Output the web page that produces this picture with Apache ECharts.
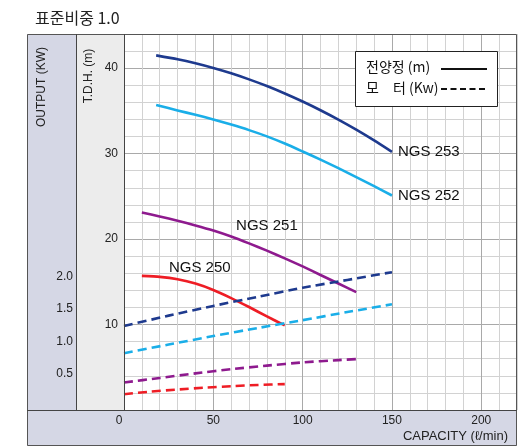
<!DOCTYPE html>
<html>
<head>
<meta charset="utf-8">
<script src="https://cdn.jsdelivr.net/npm/echarts@6/dist/echarts.min.js"></script>
<style>
html,body{margin:0;padding:0;background:#fff;}
#c{width:526px;height:446px;}
</style>
</head>
<body>
<div id="c"></div>
<script>
// ---------- data ----------
const titleText = '표준비중 1.0';
const xTicks = [0, 50, 100, 150, 200];
const headTicks = [10, 20, 30, 40];
const kwTicks = [0.5, 1.0, 1.5, 2.0];

// T.D.H. (m) curves
const cap253 = [18, 30, 40, 50, 60, 70, 80, 90, 100, 110, 120, 130, 140, 150];
const head253 = [41.5, 41.04, 40.57, 40.02, 39.4, 38.69, 37.91, 37.04, 36.1, 35.08, 33.98, 32.8, 31.54, 30.2];
const cap252 = [18, 30, 40, 50, 60, 70, 80, 90, 100, 110, 120, 130, 140, 150];
const head252 = [35.7, 35.05, 34.55, 34.0, 33.4, 32.75, 32.02, 31.18, 30.25, 29.3, 28.3, 27.25, 26.2, 25.1];
const cap251 = [10, 20, 30, 40, 50, 60, 70, 80, 90, 100, 110, 120, 130];
const head251 = [23.1, 22.65, 22.15, 21.6, 21.0, 20.3, 19.5, 18.65, 17.75, 16.8, 15.8, 14.8, 13.8];
const cap250 = [10, 20, 30, 40, 50, 60, 70, 80, 90];
const head250 = [15.7, 15.58, 15.3, 14.8, 14.05, 13.1, 12.05, 10.95, 9.9];

// Motor output (kW) curves
const mcap253 = [0, 25, 50, 75, 100, 125, 150];
const kw253 = [1.24, 1.40, 1.55, 1.69, 1.83, 1.95, 2.07];
const mcap252 = [0, 25, 50, 75, 100, 125, 150];
const kw252 = [0.82, 0.955, 1.085, 1.21, 1.33, 1.455, 1.575];
const mcap251 = [0, 20, 40, 60, 80, 100, 120, 130];
const kw251 = [0.37, 0.44, 0.51, 0.575, 0.63, 0.68, 0.715, 0.73];
const mcap250 = [0, 15, 30, 45, 60, 75, 90];
const kw250 = [0.19, 0.23, 0.262, 0.29, 0.313, 0.332, 0.345];

const names = ['NGS 253', 'NGS 252', 'NGS 251', 'NGS 250'];
const labelPos251 = [80, 21.6];
const labelPos250 = [42.4, 16.6];

// ---------- styles ----------
const colors = ['#1e3a8e', '#1aaee8', '#8e1a8e', '#ee1d25'];
const NUMF = '"Liberation Sans", Arial, sans-serif';
const KRF = '"Noto Sans CJK KR", "Liberation Sans", sans-serif';
const zip = (a, b) => a.map((v, i) => [v, b[i]]);

const chart = echarts.init(document.getElementById('c'), null, {renderer: 'canvas'});

const solid = (name, xs, ys, c, extra) => Object.assign({
  name, type: 'line', xAxisIndex: 0, yAxisIndex: 0,
  data: zip(xs, ys), smooth: 0.2, symbol: 'none',
  lineStyle: {color: c, width: 2.6, cap: 'butt', join: 'round'}, z: 5, silent: true
}, extra || {});
const dashed = (name, xs, ys, c) => ({
  name: name + ' kW', type: 'line', xAxisIndex: 1, yAxisIndex: 1,
  data: zip(xs, ys), smooth: 0.2, symbol: 'none',
  lineStyle: {color: c, width: 2.6, type: [9, 5]}, z: 6, silent: true
});

const majorMinor = ['#a9a9a9', '#d2d2d2', '#d2d2d2', '#d2d2d2', '#d2d2d2'];

const option = {
  animation: false,
  title: {
    text: titleText, left: 30, top: 5,
    textStyle: {fontFamily: KRF, fontSize: 16, fontWeight: 'normal', color: '#222'}
  },
  grid: [
    {left: 124, right: 9, top: 34, bottom: 36, outerBoundsMode: 'none', containLabel: false},
    {left: 124, right: 9, top: 82, bottom: 39.5, outerBoundsMode: 'none', containLabel: false}
  ],
  xAxis: [
    {
      type: 'value', gridIndex: 0, min: 0, max: 220, interval: 10,
      axisLine: {show: false}, axisTick: {show: false},
      splitLine: {show: true, lineStyle: {color: majorMinor, width: 1}},
      axisLabel: {
        margin: 5, fontFamily: NUMF, fontSize: 12, color: '#222',
        showMaxLabel: false,
        formatter: v => v === 0 ? '{z|0}' : (xTicks.indexOf(v) >= 0 ? String(v) : ''),
        rich: {z: {fontFamily: NUMF, fontSize: 12, color: '#222', padding: [0, 10, 0, 0]}}
      }
    },
    {
      type: 'value', gridIndex: 1, min: 0, max: 220,
      show: false
    }
  ],
  yAxis: [
    {
      type: 'value', gridIndex: 0, min: 0, max: 44, interval: 2,
      axisLine: {show: false}, axisTick: {show: false},
      splitLine: {show: true, lineStyle: {color: majorMinor, width: 1}},
      axisLabel: {
        margin: 6, fontFamily: NUMF, fontSize: 12, color: '#222',
        formatter: v => headTicks.indexOf(v) >= 0 ? String(v) : ''
      }
    },
    {
      type: 'value', gridIndex: 1, min: 0, max: 5, interval: 0.5,
      axisLine: {show: false}, axisTick: {show: false}, splitLine: {show: false},
      axisLabel: {
        margin: 51, fontFamily: NUMF, fontSize: 12, color: '#222',
        formatter: v => kwTicks.some(t => Math.abs(t - v) < 1e-6) ? v.toFixed(1) : ''
      }
    }
  ],
  series: [
    solid(names[0], cap253, head253, colors[0], {
      endLabel: {show: true, formatter: names[0], distance: 6, fontFamily: NUMF, fontSize: 15, color: '#111'}
    }),
    solid(names[1], cap252, head252, colors[1], {
      endLabel: {show: true, formatter: names[1], distance: 6, fontFamily: NUMF, fontSize: 15, color: '#111'}
    }),
    solid(names[2], cap251, head251, colors[2], {
      markPoint: {
        symbol: 'circle', symbolSize: 1, itemStyle: {color: 'rgba(0,0,0,0)'}, silent: true,
        label: {show: true, position: 'inside', formatter: names[2], fontFamily: NUMF, fontSize: 15, color: '#111'},
        data: [{coord: labelPos251}]
      }
    }),
    solid(names[3], cap250, head250, colors[3], {
      markPoint: {
        symbol: 'circle', symbolSize: 1, itemStyle: {color: 'rgba(0,0,0,0)'}, silent: true,
        label: {show: true, position: 'inside', formatter: names[3], fontFamily: NUMF, fontSize: 15, color: '#111'},
        data: [{coord: labelPos250}]
      }
    }),
    dashed(names[0], mcap253, kw253, colors[0]),
    dashed(names[1], mcap252, kw252, colors[1]),
    dashed(names[2], mcap251, kw251, colors[2]),
    dashed(names[3], mcap250, kw250, colors[3])
  ],
  graphic: [
    // bands
    {type: 'rect', shape: {x: 27, y: 34, width: 49, height: 376}, style: {fill: '#d5d7e5'}, z: -10, silent: true},
    {type: 'rect', shape: {x: 76, y: 34, width: 48, height: 376}, style: {fill: '#ececec'}, z: -10, silent: true},
    {type: 'rect', shape: {x: 27, y: 410, width: 490, height: 36}, style: {fill: '#d5d7e5'}, z: -10, silent: true},
    // frame lines
    {type: 'rect', shape: {x: 27.5, y: 34.5, width: 489, height: 411}, style: {fill: null, stroke: '#555', lineWidth: 1}, z: 50, silent: true},
    {type: 'line', shape: {x1: 76.5, y1: 34, x2: 76.5, y2: 410}, style: {stroke: '#444', lineWidth: 1}, z: 50, silent: true},
    {type: 'line', shape: {x1: 124.5, y1: 34, x2: 124.5, y2: 410}, style: {stroke: '#444', lineWidth: 1}, z: 50, silent: true},
    {type: 'line', shape: {x1: 27, y1: 410.5, x2: 517, y2: 410.5}, style: {stroke: '#444', lineWidth: 1}, z: 50, silent: true},
    // axis titles
    {type: 'text', x: 42, y: 87, rotation: Math.PI / 2, style: {text: 'OUTPUT (KW)', fontFamily: NUMF, fontSize: 12, fill: '#222', textAlign: 'center', textVerticalAlign: 'middle'}, z: 60, silent: true},
    {type: 'text', x: 89, y: 76, rotation: Math.PI / 2, style: {text: 'T.D.H. (m)', fontFamily: NUMF, fontSize: 12, fill: '#222', textAlign: 'center', textVerticalAlign: 'middle'}, z: 60, silent: true},
    {type: 'text', x: 508, y: 436, style: {text: 'CAPACITY (ℓ/min)', fontFamily: NUMF, fontSize: 13, fill: '#222', textAlign: 'right', textVerticalAlign: 'middle'}, z: 60, silent: true},
    // legend box
    {type: 'rect', shape: {x: 355.5, y: 51.5, width: 142, height: 55}, style: {fill: '#fff', stroke: '#222', lineWidth: 1}, z: 100, silent: true},
    {type: 'text', x: 366, y: 67, style: {text: '전양정 (m)', fontFamily: KRF, fontSize: 14, fill: '#111', textVerticalAlign: 'middle'}, z: 101, silent: true},
    {type: 'text', x: 366, y: 88, style: {text: '모', fontFamily: KRF, fontSize: 14, fill: '#111', textVerticalAlign: 'middle'}, z: 101, silent: true},
    {type: 'text', x: 393, y: 88, style: {text: '터 (Kw)', fontFamily: KRF, fontSize: 14, fill: '#111', textVerticalAlign: 'middle'}, z: 101, silent: true},
    {type: 'line', shape: {x1: 441, y1: 69, x2: 487, y2: 69}, style: {stroke: '#111', lineWidth: 2}, z: 101, silent: true},
    {type: 'line', shape: {x1: 441, y1: 89, x2: 487, y2: 89}, style: {stroke: '#111', lineWidth: 2, lineDash: [6, 3.5]}, z: 101, silent: true}
  ]
};
chart.setOption(option);
</script>
</body>
</html>
